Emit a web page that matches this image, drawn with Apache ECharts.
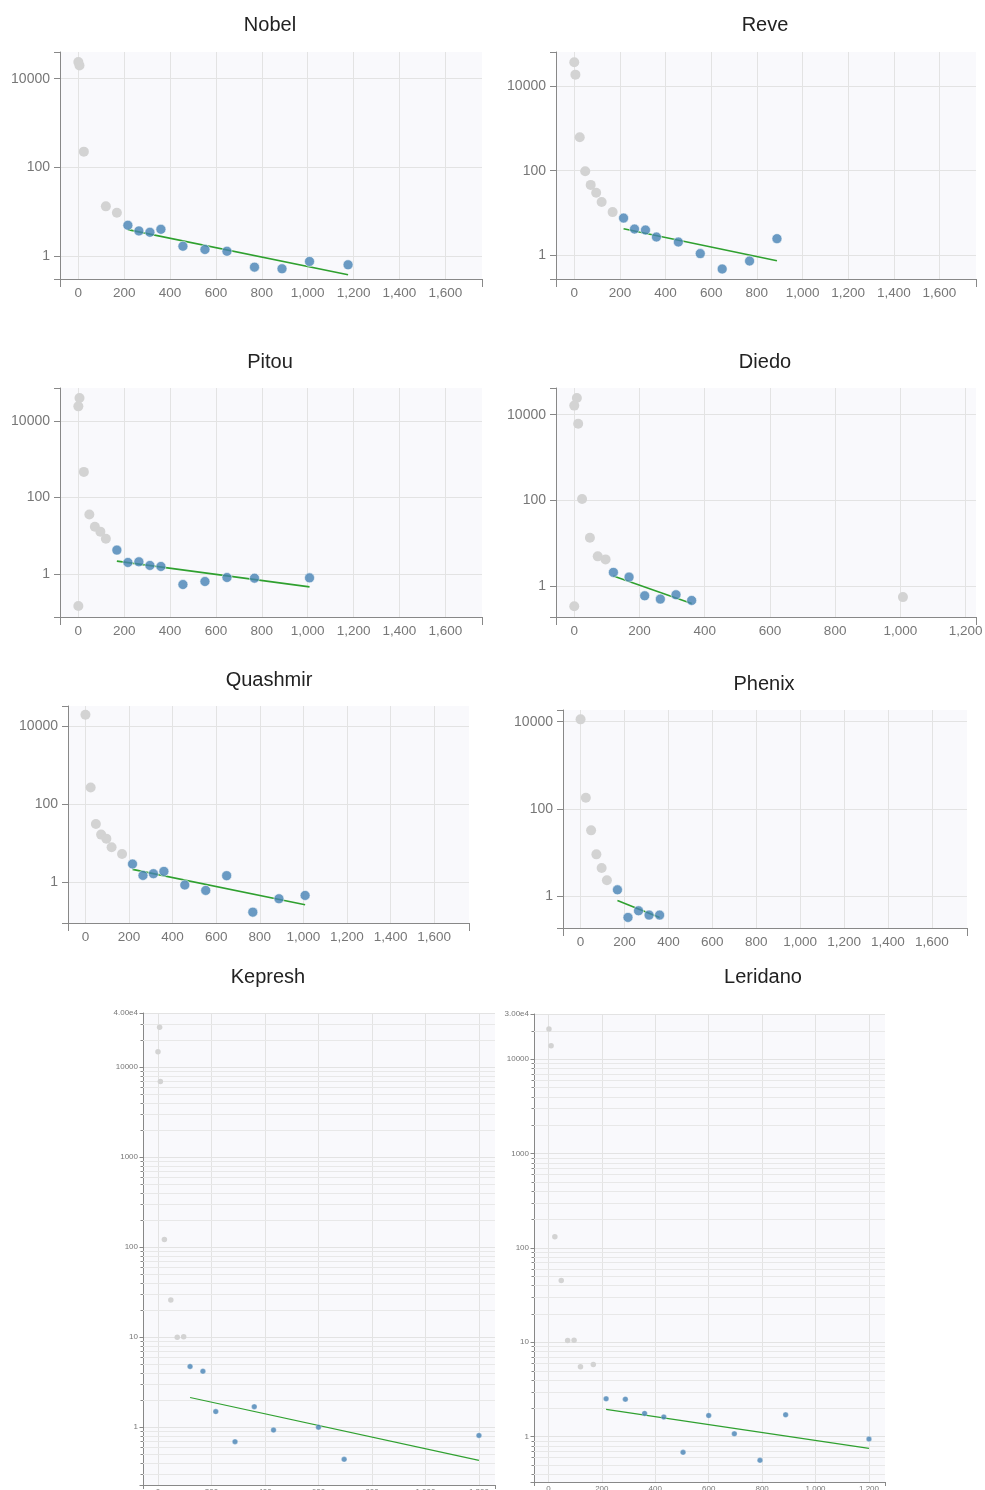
<!DOCTYPE html>
<html><head><meta charset="utf-8">
<script src="https://cdn.jsdelivr.net/npm/echarts@6/dist/echarts.min.js"></script>
<style>html,body{margin:0;padding:0;background:#fff}#c{width:985px;height:1490px}</style>
</head><body><div id="c"></div>
<script>
// ---------- data ----------
const panelTitles = ['Nobel', 'Reve', 'Pitou', 'Diedo', 'Quashmir', 'Phenix', 'Kepresh', 'Leridano'];

const nobelGray = [[0,23700],[5,19900],[24,225],[120,13.1],[168,9.4]];
const nobelBlue = [[216,4.9],[264,3.65],[312,3.4],[360,3.97],[456,1.65],[552,1.39],[648,1.27],[768,0.556],[888,0.51],[1008,0.746],[1176,0.628]];
const nobelFit  = [[216,3.91],[1176,0.374]];

const reveGray = [[0,37000],[5,18900],[24,620],[48,97],[72,46],[96,30],[120,18],[168,10.4]];
const reveBlue = [[216,7.5],[264,4.12],[312,3.91],[360,2.67],[456,2.03],[552,1.08],[648,0.466],[768,0.72],[888,2.44]];
const reveFit  = [[216,4.2],[888,0.734]];

const pitouGray = [[5,40000],[0,24200],[24,470],[48,36],[72,17.4],[96,12.9],[120,8.4],[0,0.148]];
const pitouBlue = [[168,4.25],[216,2.02],[264,2.10],[312,1.69],[360,1.59],[456,0.536],[552,0.643],[648,0.818],[768,0.785],[1008,0.80]];
const pitouFit  = [[168,2.19],[1008,0.466]];

const diedoGray = [[8,24500],[0,16300],[12,6150],[24,108],[48,13.5],[72,4.94],[96,4.2],[0,0.34],[1008,0.553]];
const diedoBlue = [[120,2.09],[168,1.62],[216,0.594],[264,0.497],[312,0.627],[360,0.462]];
const diedoFit  = [[120,1.71],[360,0.393]];

const quashmirGray = [[0,19600],[24,266],[48,31],[72,16.5],[96,13],[120,7.8],[168,5.25]];
const quashmirBlue = [[216,2.9],[264,1.48],[312,1.64],[360,1.88],[456,0.84],[552,0.61],[648,1.46],[768,0.169],[888,0.373],[1008,0.454]];
const quashmirFit  = [[216,2.12],[1008,0.261]];

const phenixGray = [[0,11300],[24,181],[48,32.6],[72,9.2],[96,4.5],[120,2.36]];
const phenixBlue = [[168,1.42],[216,0.332],[264,0.471],[312,0.375],[360,0.375]];
const phenixFit  = [[168,0.81],[360,0.33]];

const kepreshGray = [[6,27700],[0,14800],[9,6930],[24,122],[48,25.9],[72,10],[96,10.1]];
const kepreshBlue = [[120,4.73],[168,4.19],[216,1.49],[288,0.69],[360,1.69],[432,0.93],[600,1.0],[696,0.44],[1200,0.81]];
const kepreshFit  = [[120,2.14],[1200,0.428]];

const leridanoGray = [[2,20800],[10,13800],[24,131],[48,45],[72,10.4],[96,10.5],[120,5.48],[168,5.8]];
const leridanoBlue = [[216,2.51],[288,2.49],[360,1.76],[432,1.61],[504,0.68],[600,1.67],[696,1.07],[792,0.56],[888,1.70],[1200,0.94]];
const leridanoFit  = [[216,1.94],[1200,0.75]];

const xTickLabels = [0,200,400,600,800,1000,1200,1400,1600];
const yTickLabelsTop = [1,100,10000];
const yTickLabelsBottom = [1,10,100,1000,10000];
const yMinorValues = [0.2,0.3,0.4,0.5,0.6,0.7,0.8,0.9,2,3,4,5,6,7,8,9,20,30,40,50,60,70,80,90,
  200,300,400,500,600,700,800,900,2000,3000,4000,5000,6000,7000,8000,9000,20000,30000];

// ---------- layout ----------
const panels = [
  {gray:nobelGray, blue:nobelBlue, fit:nobelFit, kind:'top', l:60, t:52, w:422, h:227, x:[-80,1760], y:[0.3,40000], xs:9, tx:270, ty:24},
  {gray:reveGray, blue:reveBlue, fit:reveFit, kind:'top', l:556, t:52, w:420, h:227, x:[-80,1760], y:[0.27,65000], xs:9, tx:765, ty:24},
  {gray:pitouGray, blue:pitouBlue, fit:pitouFit, kind:'top', l:60, t:388, w:422, h:229, x:[-80,1760], y:[0.076,73000], xs:9, tx:270, ty:361},
  {gray:diedoGray, blue:diedoBlue, fit:diedoFit, kind:'top', l:556, t:388, w:420, h:229, x:[-56,1232], y:[0.19,42000], xs:6, tx:765, ty:361},
  {gray:quashmirGray, blue:quashmirBlue, fit:quashmirFit, kind:'top', l:68, t:706, w:401, h:217, x:[-80,1760], y:[0.089,33000], xs:9, tx:269, ty:679},
  {gray:phenixGray, blue:phenixBlue, fit:phenixFit, kind:'top', l:563, t:710, w:404, h:218, x:[-80,1760], y:[0.19,18500], xs:9, tx:764, ty:683},
  {gray:kepreshGray, blue:kepreshBlue, fit:kepreshFit, kind:'bottom', l:143, t:1013, w:352, h:472, x:[-56,1260], y:[0.228,40000], xs:6, tx:268, ty:976},
  {gray:leridanoGray, blue:leridanoBlue, fit:leridanoFit, kind:'bottom', l:534, t:1014, w:351, h:468, x:[-54,1260], y:[0.33,30000], xs:6, tx:763, ty:976}
];

const FONT = 'Liberation Sans, Arial, Helvetica, sans-serif';
const AXIS = '#888';
const GRIDC = '#e3e3e3';

const option = {animation:false, backgroundColor:'#fff', title:[], grid:[], xAxis:[], yAxis:[], series:[]};

function near(list, v) { return list.some(t => Math.abs(t - v) <= 1e-6 * Math.max(1, Math.abs(t))); }

panels.forEach((p, i) => {
  const big = p.kind === 'top';
  option.title.push({
    text: panelTitles[i], left: p.tx, top: p.ty - 9, textAlign: 'center', padding: 0,
    textStyle: {fontSize: 20, fontWeight: 'normal', color: '#222', fontFamily: FONT}
  });
  option.grid.push({left:p.l, top:p.t, width:p.w, height:p.h, show:true, backgroundColor:'#f9f9fc',
    borderWidth:0, containLabel:false, outerBoundsMode:'none'});
  const xi = option.xAxis.length;
  option.xAxis.push({
    gridIndex:i, type:'value', position:'bottom', min:p.x[0], max:p.x[1], splitNumber:p.xs,
    axisLine:{show:true, onZero:false, lineStyle:{color:AXIS, width:1}},
    axisTick:{show:false},
    axisLabel:{show:true, margin: big ? 7 : 3, fontSize: big ? 13.5 : 8, color:'#777', fontFamily:FONT,
      formatter: v => near(xTickLabels, v) ? Number(v).toLocaleString('en-US') : ''},
    splitLine:{show:true, showMinLine:false, showMaxLine:false, lineStyle:{color:GRIDC, width:1}}
  });
  option.xAxis.push({
    gridIndex:i, type:'value', position:'bottom', min:p.x[0], max:p.x[1],
    axisLine:{show:false}, axisLabel:{show:false}, splitLine:{show:false},
    axisTick:{show:true, length: big ? 8 : 4, customValues:[p.x[0], p.x[1]], lineStyle:{color:AXIS}}
  });
  const yi = option.yAxis.length;
  option.yAxis.push({
    gridIndex:i, type:'log', logBase: big ? 100 : 10, min:p.y[0], max:p.y[1],
    axisLine:{show:true, onZero:false, lineStyle:{color:AXIS, width:1}},
    axisTick:{show:true, length: big ? 6 : 3.5, lineStyle:{color:AXIS}},
    axisLabel:{show:true, margin: big ? 10 : 5, fontSize: big ? 14 : 8, color:'#777', fontFamily:FONT,
      formatter: v => {
        if (big) return near(yTickLabelsTop, v) ? String(Math.round(v)) : '';
        if (near(yTickLabelsBottom, v)) return String(Math.round(v));
        if (Math.abs(v - p.y[1]) < 1e-6 * p.y[1]) return Number(v).toExponential(2).replace('e+', 'e');
        return '';
      }},
    splitLine:{show:true, showMinLine:false, showMaxLine: !big, lineStyle:{color:GRIDC, width:1}}
  });
  if (!big) {
    const minor = yMinorValues.filter(v => v > p.y[0] && v < p.y[1]).map(v => [p.x[0], v]);
    option.series.push({
      type:'custom', xAxisIndex:xi, yAxisIndex:yi, silent:true, z:1, clip:false, data:minor,
      renderItem: (params, api) => {
        const a = api.coord([p.x[0], api.value(1)]);
        const b = api.coord([p.x[1], api.value(1)]);
        const y = Math.round(a[1]) + 0.5;
        return {type:'group', children:[
          {type:'line', shape:{x1:a[0], y1:y, x2:b[0], y2:y}, style:{stroke:'#e8e8e8', lineWidth:1}},
          {type:'line', shape:{x1:a[0] - 2.5, y1:y, x2:a[0], y2:y}, style:{stroke:AXIS, lineWidth:1}}
        ]};
      }
    });
  }
  option.series.push({
    type:'line', xAxisIndex:xi, yAxisIndex:yi, data:p.fit, showSymbol:false, symbol:'none', z:2, silent:true,
    lineStyle:{color:'#2fa02f', width: big ? 1.6 : 1.1}
  });
  option.series.push({
    type:'scatter', xAxisIndex:xi, yAxisIndex:yi, data:p.gray, z:3, symbolSize: big ? 10 : 5.5,
    itemStyle:{color:'#d3d3d3', opacity:1}
  });
  option.series.push({
    type:'scatter', xAxisIndex:xi, yAxisIndex:yi, data:p.blue, z:4, symbolSize: big ? 10 : 5.5,
    itemStyle:{color:'#4682b4', borderColor:'rgba(255,255,255,0.7)', borderWidth: big ? 1 : 0.5}
  });
});

const chart = echarts.init(document.getElementById('c'), null, {renderer:'canvas', width:985, height:1490});
chart.setOption(option);
</script>
</body></html>
